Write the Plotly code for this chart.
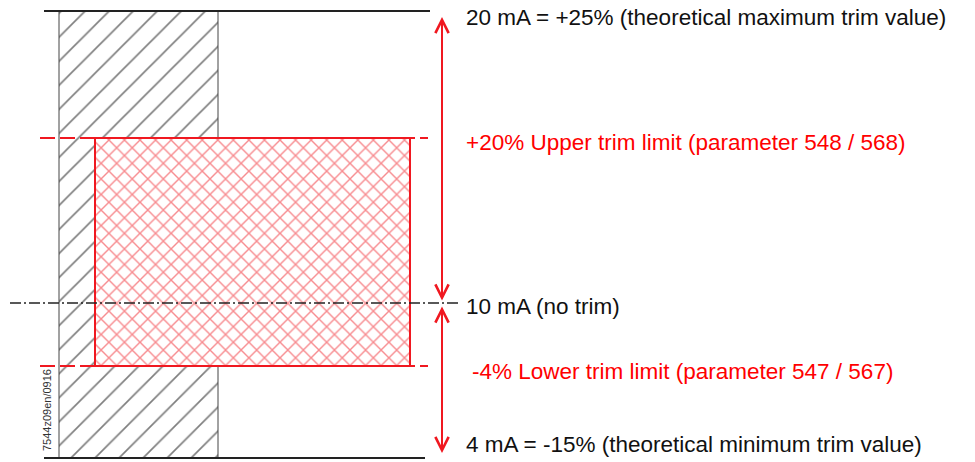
import plotly.graph_objects as go

# Schematic level positions (diagram units, read from the picture; not to scale)
level_names = ["20 mA", "upper limit", "10 mA", "lower limit", "4 mA"]
level_y = [11, 138, 303, 366, 458]

# Text labels for each level
level_text = [
    "20 mA = +25% (theoretical maximum trim value)",
    "+20% Upper trim limit (parameter 548 / 568)",
    "10 mA (no trim)",
    "-4% Lower trim limit (parameter 547 / 567)",
    "4 mA = -15% (theoretical minimum trim value)",
]
level_text_y = [17, 142, 306, 371, 444]
level_text_x = [465, 465, 465, 471, 465]
level_text_color = ["#111111", "#ff0000", "#111111", "#ff0000", "#111111"]

# Horizontal extents of the bands
total_x = [59, 218]
trim_x = [95, 410]

RED = "#f01820"
DARK = "#222222"

fig = go.Figure()

y_top, y_up, y_mid, y_lo, y_bot = level_y

# Total range band (hatched)
fig.add_trace(go.Scatter(
    x=[total_x[0], total_x[1], total_x[1], total_x[0], total_x[0]],
    y=[y_top, y_top, y_bot, y_bot, y_top],
    mode="lines", fill="toself",
    line=dict(color="#444444", width=1),
    fillcolor="white",
    fillpattern=dict(shape="/", fgcolor="#000000", bgcolor="white", size=17, solidity=0.1),
    hoverinfo="skip", showlegend=False,
))

# Red dashed limit lines
for yv in (y_up, y_lo):
    fig.add_trace(go.Scatter(
        x=[40, 428], y=[yv, yv], mode="lines",
        line=dict(color=RED, width=2, dash="15px,5px"),
        hoverinfo="skip", showlegend=False,
    ))

# Trim range band (cross hatched)
fig.add_trace(go.Scatter(
    x=[trim_x[0], trim_x[1], trim_x[1], trim_x[0], trim_x[0]],
    y=[y_up, y_up, y_lo, y_lo, y_up],
    mode="lines", fill="toself",
    line=dict(color=RED, width=2),
    fillcolor="white",
    fillpattern=dict(shape="x", fgcolor=RED, bgcolor="white", size=11, solidity=0.24),
    hoverinfo="skip", showlegend=False,
))

# Top / bottom limit lines
fig.add_trace(go.Scatter(x=[44, 430], y=[y_top, y_top], mode="lines",
                         line=dict(color=DARK, width=2), hoverinfo="skip", showlegend=False))
fig.add_trace(go.Scatter(x=[44, 425], y=[y_bot, y_bot], mode="lines",
                         line=dict(color=DARK, width=2), hoverinfo="skip", showlegend=False))

# Centre line (dash-dot)
fig.add_trace(go.Scatter(x=[10, 460], y=[y_mid, y_mid], mode="lines",
                         line=dict(color=DARK, width=1.5, dash="11px,3px,2px,3px"),
                         hoverinfo="skip", showlegend=False))

annotations = []
# Arrows
arrow_x = 442
for tip, tail in ((y_top + 6, y_mid - 1), (y_bot - 5, y_mid + 2)):
    annotations.append(dict(
        x=arrow_x, y=tip, ax=arrow_x, ay=tail, xref="x", yref="y", axref="x", ayref="y",
        text="", showarrow=True, arrowside="end+start",
        arrowhead=5, startarrowhead=5, arrowsize=1.3, startarrowsize=1.3,
        arrowwidth=2, arrowcolor=RED, standoff=0, startstandoff=0,
    ))

for t, ty, tx, c in zip(level_text, level_text_y, level_text_x, level_text_color):
    annotations.append(dict(
        x=tx, y=ty, xref="x", yref="y", text=t, showarrow=False,
        xanchor="left", yanchor="middle", borderpad=0,
        font=dict(family="Arial, Liberation Sans, sans-serif", size=22.5, color=c),
    ))

annotations.append(dict(
    x=47, y=410, xref="x", yref="y", text="7544z09en/0916", showarrow=False,
    textangle=-90, xanchor="center", yanchor="middle",
    font=dict(family="Arial, Liberation Sans, sans-serif", size=11, color="#333333"),
))

fig.update_layout(
    width=975, height=462,
    margin=dict(l=0, r=0, t=0, b=0),
    paper_bgcolor="white", plot_bgcolor="white",
    xaxis=dict(range=[0, 975], visible=False, fixedrange=True),
    yaxis=dict(range=[462, 0], visible=False, fixedrange=True),
    annotations=annotations,
    showlegend=False,
    hovermode=False,
)

fig.write_html(
    "out.html",
    config={"displayModeBar": False, "staticPlot": True},
    post_script="document.body.style.margin='0px';document.body.style.overflow='hidden';",
)
